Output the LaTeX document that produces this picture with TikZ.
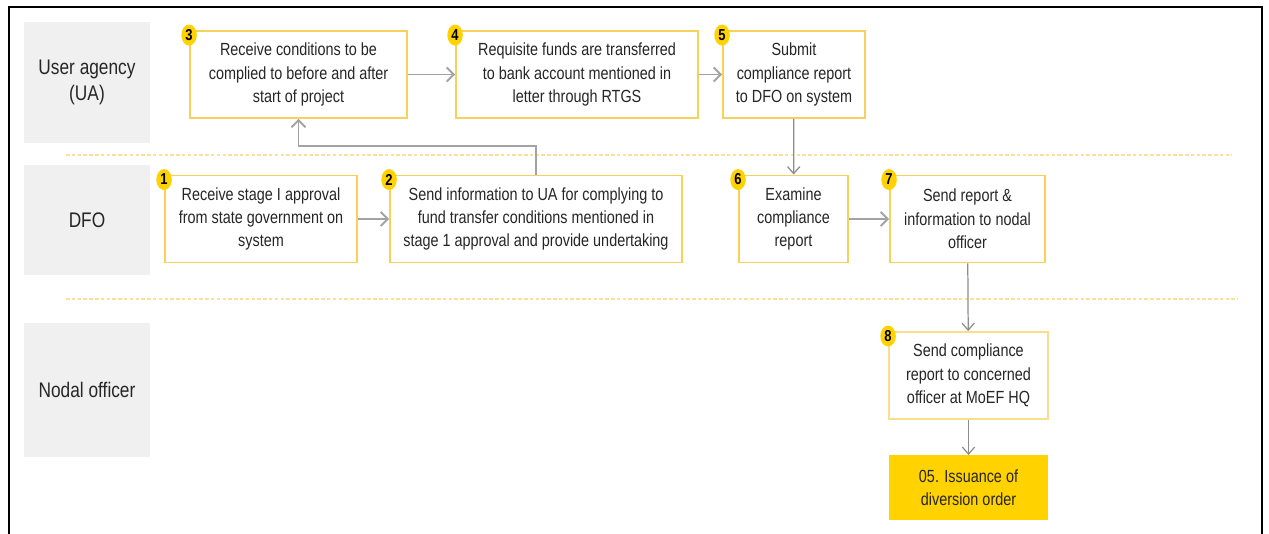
\documentclass[tikz,border=0pt]{standalone}
\usepackage{fontspec}
\setmainfont{Liberation Sans}[FakeStretch=0.82]
\usetikzlibrary{arrows.meta,shapes.geometric}
\definecolor{boxline}{HTML}{F8D05C}
\definecolor{badge}{HTML}{FFD200}
\definecolor{lane}{HTML}{F0F0F0}
\definecolor{arrowgray}{HTML}{A3A3A3}
\definecolor{downgray}{HTML}{8C8C8C}
\definecolor{sepline}{HTML}{FCE09A}
\definecolor{ink}{HTML}{262626}

\begin{document}
\begin{tikzpicture}[x=0.02cm,y=-0.02cm]
\tikzstyle{every node}=[inner sep=1pt, text=ink]
\tikzstyle{lanebox}=[fill=lane, minimum width=2.52cm, font=\fontsize{12}{14.5}\selectfont, align=center]
\tikzstyle{stepbox}=[draw=boxline, line width=1.1pt, fill=white, minimum height=1.74cm, font=\fontsize{10}{13.3}\selectfont, align=center]
\tikzstyle{numtag}=[ellipse, fill=badge, minimum width=0.31cm, minimum height=0.42cm, inner sep=0pt, font=\fontsize{9}{9}\bfseries\selectfont, text=black]
\tikzstyle{flow}=[draw=arrowgray, line width=1.1pt, -{Straight Barb[length=4pt,width=8pt]}]
\tikzstyle{down}=[draw=downgray, line width=0.7pt, -{Straight Barb[length=4pt,width=7pt]}]
\useasboundingbox (0,0) rectangle (1269,534);
\draw[line width=1.2pt] (9,534) -- (9,7) -- (1262,7) -- (1262,534);
% lanes
\draw (87,82.5) node (ua) [lanebox, minimum height=2.42cm] {User agency\\(UA)};
\draw (87,220) node (dfo) [lanebox, minimum height=2.2cm] {DFO};
\draw (87,390) node (nodal) [lanebox, minimum height=2.68cm] {Nodal officer};
\draw[sepline, line width=1.7pt, dash pattern=on 2pt off 1.3pt] (66,155) -- (1232,155);
\draw[sepline, line width=1.7pt, dash pattern=on 2pt off 1.3pt] (66,299) -- (1238,299);
% steps
\draw (298.5,74.5) node (s3) [stepbox, minimum width=4.34cm] {Receive conditions to be\\complied to before and after\\start of project};
\draw (577,74.5) node (s4) [stepbox, minimum width=4.84cm] {Requisite funds are transferred\\to bank account mentioned in\\letter through RTGS};
\draw (794,74.5) node (s5) [stepbox, minimum width=2.84cm] {Submit\\compliance report\\to DFO on system};
\draw (261,219) node (s1) [stepbox, minimum width=3.84cm] {Receive stage I approval\\from state government on\\system};
\draw (536,219) node (s2) [stepbox, minimum width=5.84cm] {Send information to UA for complying to\\fund transfer conditions mentioned in\\stage 1 approval and provide undertaking};
\draw (793.5,219) node (s6) [stepbox, minimum width=2.18cm] {Examine\\compliance\\report};
\draw (967.5,219) node (s7) [stepbox, minimum width=3.1cm] {Send report \&\\information to nodal\\officer};
\draw (968.5,375.5) node (s8) [stepbox, draw=boxline!70, minimum width=3.18cm] {Send compliance\\report to concerned\\officer at MoEF HQ};
\draw (968.5,487.5) node (order) [stepbox, fill=badge, draw=badge, minimum width=3.14cm, minimum height=1.26cm] {05. Issuance of\\diversion order};
% number tags
\draw ([yshift=-0.1cm]s1.north west) node (n1) [numtag] {1};
\draw ([yshift=-0.1cm]s2.north west) node (n2) [numtag] {2};
\draw ([yshift=-0.1cm]s3.north west) node (n3) [numtag] {3};
\draw ([yshift=-0.1cm]s4.north west) node (n4) [numtag] {4};
\draw ([yshift=-0.1cm]s5.north west) node (n5) [numtag] {5};
\draw ([yshift=-0.1cm]s6.north west) node (n6) [numtag] {6};
\draw ([yshift=-0.1cm]s7.north west) node (n7) [numtag] {7};
\draw ([yshift=-0.1cm]s8.north west) node (n8) [numtag] {8};
% arrows
\draw[flow] (s1) -- (s2);
\draw[flow] (s3) -- (s4);
\draw[flow] (s4) -- (s5);
\draw[flow] (s6) -- (s7);
\draw[flow] (s2.north) -- ++(0,-29) -| (s3.south);
\draw[down] (s5) -- (s6);
\draw[down] (s7) -- (s8);
\draw[down] (s8) -- (order);
\end{tikzpicture}
\end{document}
